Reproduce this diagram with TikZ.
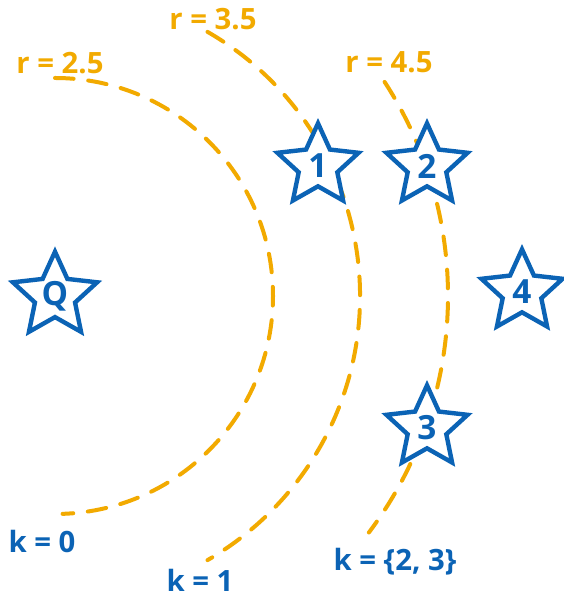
\documentclass[tikz,border=0pt]{standalone}
\usepackage{fontspec}
\setmainfont{Open Sans}
\usepackage{tikz}
\usetikzlibrary{shapes.geometric}
\definecolor{starblue}{HTML}{0B63B5}
\definecolor{rorange}{HTML}{F2AA00}
\tikzset{
  pt/star/.style={draw=starblue, fill=white, line width=3.3pt, line join=miter, star, star points=5, star point ratio=2.1, minimum size=64pt, inner sep=0pt, text=starblue, font=\bfseries\fontsize{25}{25}\selectfont},
  pt/ring/.style={draw=rorange, line width=3pt, line cap=round, dash pattern=on 14pt off 11pt},
  lbl/r/.style={text=rorange, font=\bfseries\fontsize{22}{22}\selectfont, inner sep=1pt},
  lbl/k/.style={text=starblue, font=\bfseries\fontsize{22}{22}\selectfont, inner sep=1pt}
}
\begin{document}
\begin{tikzpicture}[x=0.75pt,y=0.75pt]
\useasboundingbox (0,0) rectangle (563,598);
\coordinate (c) at (55,302);
% radius rings
\draw[pt/ring] (c) ++(90:218) arc[start angle=90, end angle=-88, radius=218];
\draw[pt/ring] (c) ++(60:305) arc[start angle=60, end angle=-60, radius=305];
\draw[pt/ring] (c) ++(33:393) arc[start angle=33, end angle=-37, radius=393];
% points
\node[pt/star] (q) at (55,302) {Q};
\node[pt/star] (s1) at (318,432) {1};
\node[pt/star] (s2) at (427,432) {2};
\node[pt/star] (s3) at (427,170) {3};
\node[pt/star] (s4) at (522,306) {4};
% labels
\node[lbl/r] (r0) at (60,535) {r = 2.5};
\node[lbl/r] (r1) at (213,579) {r = 3.5};
\node[lbl/r] (r2) at (389,536) {r = 4.5};
\node[lbl/k] (k0) at (42,56) {k = 0};
\node[lbl/k] (k1) at (200,18) {k = 1};
\node[lbl/k] (k2) at (395,36) {k = \{2, 3\}};
\end{tikzpicture}
\end{document}
